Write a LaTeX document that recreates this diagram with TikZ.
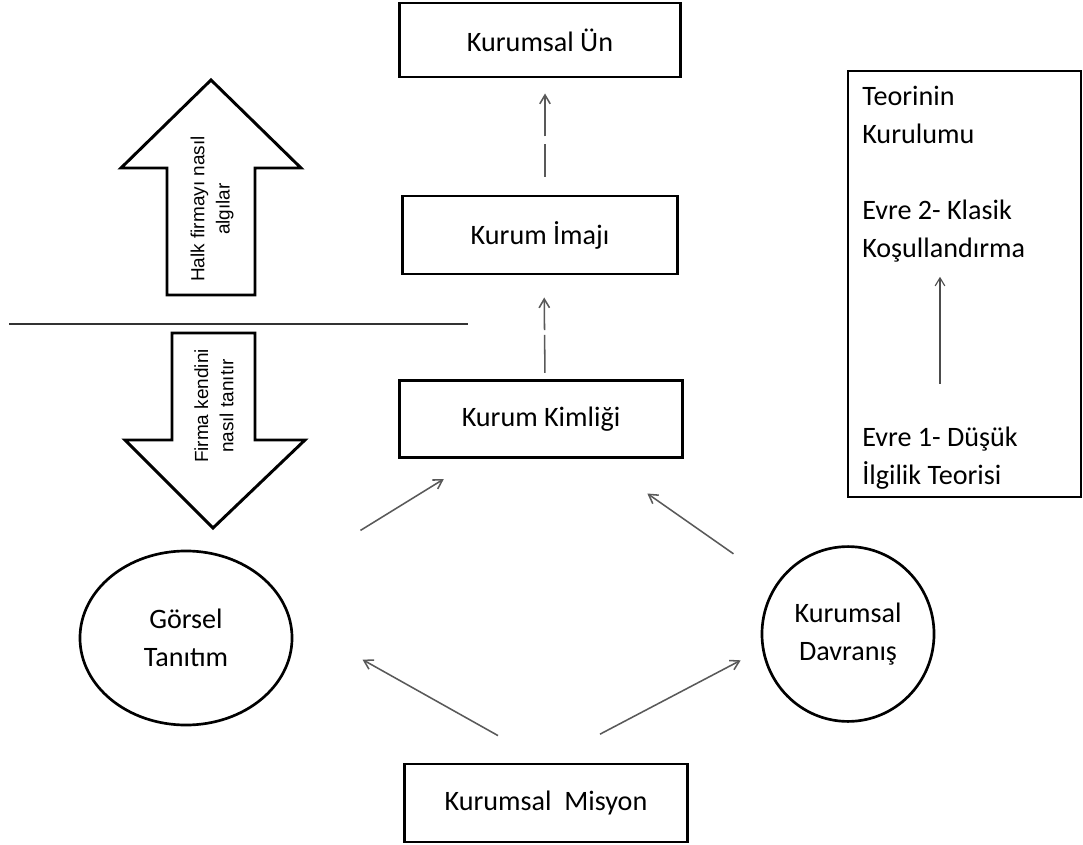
\documentclass[tikz,border=0pt]{standalone}
\usepackage{fontspec}
\setmainfont{Carlito}
\newfontfamily\arialfont{Liberation Sans}
\usetikzlibrary{arrows.meta,positioning,shapes.geometric}
\tikzset{
  stage box/.style={draw,line width=2.1pt,minimum width=7cm,minimum height=1.9cm,
    font=\fontsize{20}{24}\selectfont},
  stage oval/.style={draw,ellipse,line width=1.9pt,align=center,
    font=\fontsize{20}{27}\selectfont},
  stage link/.style={-{Straight Barb[length=2.2mm,width=2.6mm]},draw=black!65,line width=1.1pt},
  block arrow/.style={draw,line width=2.1pt,line join=miter,fill=white},
  arrow text/.style={rotate=90,align=center,font=\arialfont\fontsize{13.5}{18}\selectfont},
  phase text/.style={anchor=north west,align=left,inner sep=0pt,
    font=\fontsize{20}{27}\selectfont}
}

\begin{document}
\begin{tikzpicture}[x=0.025cm,y=-0.025cm]
  \useasboundingbox (0,0) rectangle (1083,845);
  % central chain
  \node[stage box,minimum width=7.025cm,minimum height=1.85cm] (Un) at (540,40) {Kurumsal Ün};
  \node[stage box,minimum width=6.85cm,minimum height=1.95cm] (Imaj) at (540,235) {Kurum İmajı};
  \node[stage box,minimum width=7.05cm,minimum height=1.93cm] (Kimlik) at (541,419) {Kurum Kimliği};
  \node[stage box,minimum width=7.08cm,minimum height=1.95cm] (Misyon) at (546,803) {Kurumsal\ \ Misyon};
  \node[stage oval,minimum width=5.3cm,minimum height=4.35cm] (Gorsel) at (186,638) {Görsel\\Tanıtım};
  \node[stage oval,minimum width=4.3cm,minimum height=4.37cm] (Davranis) at (848,634) {Kurumsal\\Davranış};

  \draw[stage link,dash pattern=on 0.8cm off 0.2cm on 3cm,shorten <=0.45cm,shorten >=0.375cm]
    ([xshift=0.125cm]Imaj.north) -- ([xshift=0.125cm]Un.south);
  \draw[stage link,dash pattern=on 0.95cm off 0.12cm on 3cm,shorten <=0.15cm,shorten >=0.55cm]
    ([xshift=0.1cm]Kimlik.north) -- ([xshift=0.1cm]Imaj.south);
  \draw[stage link,shorten <=2.6cm,shorten >=0.95cm] (Gorsel) -- (Kimlik);
  \draw[stage link,shorten <=1.3cm,shorten >=1.5cm] (Davranis) -- (Kimlik);
  \draw[stage link,shorten <=1.375cm,shorten >=2.05cm] (Misyon.north) -- (Gorsel.10);
  \draw[stage link,shorten <=1.525cm,shorten >=0.6cm] (Misyon.north) -- (Davranis.190);

  % public view / firm view
  \draw[block arrow] (211,80) -- (301,168) -- (255,168) -- (255,295) -- (167,295)
    -- (167,168) -- (121,168) -- cycle;
  \node[arrow text] (Halk) at (212,209) {Halk firmayı nasıl\\algılar};
  \draw[line width=1.3pt,black!80] (9,324) -- (468,324);
  \draw[block arrow] (172,333) -- (255,333) -- (255,440) -- (305,440) -- (213,528)
    -- (125,440) -- (172,440) -- cycle;
  \node[arrow text] (Firma) at (214,406) {Firma kendini\\nasıl tanıtır};

  % theory box
  \node[draw,line width=2pt,minimum width=5.825cm,minimum height=10.65cm] (Kuram) at (964.5,284) {};
  \node[phase text] (Teori) at (862,86) {Teorinin\\Kurulumu};
  \node[phase text] (Evre2) at (862,200) {Evre 2- Klasik\\Koşullandırma};
  \node[phase text] (Evre1) at (862,427) {Evre 1- Düşük\\İlgilik Teorisi};
  \draw[-{Straight Barb[length=2mm,width=2.4mm]},draw=black!70,line width=0.8pt,
    shorten <=1.075cm,shorten >=0.35cm] (Evre1.north) -- (Evre1.north |- Evre2.south);
\end{tikzpicture}
\end{document}
